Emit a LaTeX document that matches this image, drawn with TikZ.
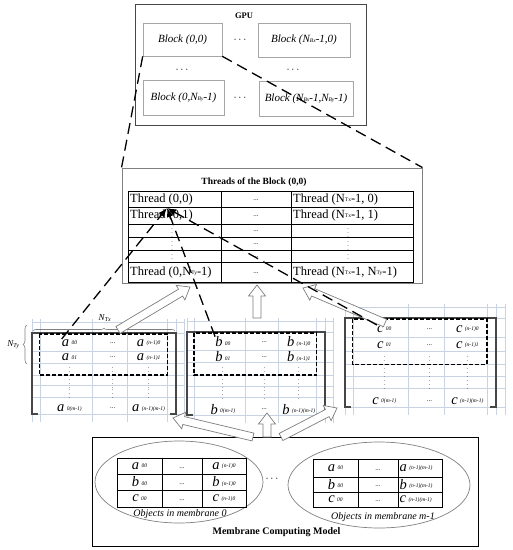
\documentclass[tikz,border=0pt]{standalone}
\usepackage{fontspec}
\setmainfont{Liberation Serif}
\usepackage{tikz}
\usetikzlibrary{arrows.meta, calc, decorations.pathreplacing}
\definecolor{gridline}{RGB}{200, 212, 228}
\definecolor{boxline}{RGB}{70, 70, 70}
\definecolor{fatline}{RGB}{125, 125, 125}

\newcommand{\idx}[1]{{\fontsize{5.5}{6}\selectfont #1}}
\newcommand{\elem}[2]{\textit{#1}\,\raisebox{1.5pt}{\idx{\itshape #2}}}
\newcommand{\vdt}{{\fontsize{6}{6}\selectfont$\vdots$}}
\newcommand{\hdt}{{\fontsize{7}{7}\selectfont ...}}
% hollow arrow from #1 to #2
\newcommand{\fatarrow}[2]{%
  \coordinate (neck) at ($(#2)!11pt!(#1)$);
  \draw[hollowarrow] ($(#1)!4pt!90:(#2)$) -- ($(neck)!4pt!90:(#2)$)
    -- ($(neck)!8.5pt!90:(#2)$) -- (#2) -- ($(neck)!8.5pt!-90:(#2)$)
    -- ($(neck)!4pt!-90:(#2)$) -- ($(#1)!4pt!-90:(#2)$) -- cycle;}

\begin{document}
\begin{tikzpicture}[x=1pt, y=-1pt,
    gpubox/.style={draw=boxline, line width=0.9pt, inner sep=0pt},
    blockbox/.style={draw=gray!70, line width=0.6pt, inner sep=0pt, font=\fontsize{11}{11}\selectfont\itshape},
    threadtxt/.style={anchor=west, inner sep=0pt, font=\fontsize{12.5}{13}\selectfont},
    celltxt/.style={inner sep=0pt, font=\fontsize{14.5}{14}\selectfont},
    gridrule/.style={draw=gridline, line width=0.5pt},
    frameline/.style={draw=boxline, line width=1.1pt},
    dashbox/.style={draw=black, line width=1.4pt, dash pattern=on 4pt off 2pt},
    dashlink/.style={draw=black, line width=1.3pt, dash pattern=on 11pt off 6pt},
    hollowarrow/.style={draw=fatline, fill=white, line width=0.7pt, line join=miter},
    tablerule/.style={draw=black, line width=0.8pt}]

  \useasboundingbox (0,0) rectangle (513,550);

  % GPU and its blocks
  \node[gpubox, minimum width=231pt, minimum height=121pt] (gpu) at (250.5,64.5) {};
  \node[font=\fontsize{8.5}{9}\selectfont\bfseries] (gputitle) at (244,16) {GPU};
  \node[blockbox, minimum width=79pt, minimum height=33pt] (blk00) at (182.5,39.5) {Block (0,0)};
  \node[blockbox, minimum width=92pt, minimum height=34pt] (blkx0) at (304,40) {Block (N\idx{Bx}-1,0)};
  \node[blockbox, minimum width=81pt, minimum height=35pt] (blk0y) at (183.5,97.5) {Block (0,N\idx{By}-1)};
  \node[blockbox, minimum width=94pt, minimum height=35pt] (blkxy) at (306,98.5) {Block (N\idx{Bx}-1,N\idx{By}-1)};
  \node[font=\fontsize{11}{11}\selectfont] (gdots1) at (240,40) {$\cdots$};
  \node[font=\fontsize{11}{11}\selectfont] (gdots2) at (182,70) {$\cdots$};
  \node[font=\fontsize{11}{11}\selectfont] (gdots3) at (293,70) {$\cdots$};
  \node[font=\fontsize{11}{11}\selectfont] (gdots4) at (240,98) {$\cdots$};

  % threads of block (0,0)
  \node[draw=gray, line width=0.9pt, minimum width=300pt, minimum height=115pt, inner sep=0pt] (thr) at (272,225.5) {};
  \node[font=\fontsize{9.5}{10}\selectfont\bfseries] (thrtitle) at (254,182) {Threads of the Block (0,0)};
  \draw[tablerule] (128,191) rectangle (413,282);
  \foreach \ry in {207,224,237,250,262}
    \draw[tablerule] (128,\ry) -- (413,\ry);
  \foreach \cx in {221,291}
    \draw[tablerule] (\cx,191) -- (\cx,282);
  \node[threadtxt] (th00) at (130,199) {Thread (0,0)};
  \node[threadtxt] (th01) at (130,215.5) {Thread (0,1)};
  \node[threadtxt] (th0y) at (130,272) {Thread (0,N\raisebox{1pt}{\idx{Ty}}-1)};
  \node[threadtxt] (thx0) at (293,199) {Thread (N\raisebox{1pt}{\idx{Tx}}-1, 0)};
  \node[threadtxt] (thx1) at (293,215.5) {Thread (N\raisebox{1pt}{\idx{Tx}}-1, 1)};
  \node[threadtxt] (thxy) at (293,272) {Thread (N\raisebox{1pt}{\idx{Tx}}-1, N\raisebox{1pt}{\idx{Ty}}-1)};
  \foreach \ry [count=\i] in {199,215.5,230.5,243.5,256,272}
    \node[inner sep=0pt] (thm\i) at (256,\ry+1) {\hdt};
  \foreach \ry [count=\i] in {230.5,243.5,256} {
    \node[inner sep=0pt] (thl\i) at (172,\ry) {\vdt};
    \node[inner sep=0pt] (thr\i) at (348,\ry) {\vdt};
  }

  % object matrices
  \foreach \m/\mx/\my/\mw/\mh in {a/32/333/144/81, b/187/332/138/83, c/345/318/151/89} {
    \foreach \f in {0,.055,.42,.66,.94,1,1.06}
      \draw[gridrule] (\mx+\f*\mw,\my-14) -- (\mx+\f*\mw,\my+\mh+8);
    \foreach \g in {0,.22,.37,.52,.65,.79,1}
      \draw[gridrule] (\mx,\my+\g*\mh) -- (\mx+1.06*\mw,\my+\g*\mh);
    \draw[gridrule] (\mx,\my-11) -- (\mx+1.06*\mw,\my-11);
    \draw[frameline] (\mx+6,\my+\mh) -- (\mx,\my+\mh) -- (\mx,\my)
      -- (\mx+\mw,\my) -- (\mx+\mw,\my+\mh) -- (\mx+\mw-6,\my+\mh);
    \draw[dashbox] (\mx+.05*\mw,\my+1) rectangle (\mx+.94*\mw,\my+.52*\mh);
    \node[celltxt] (\m-00) at (\mx+.26*\mw,\my+.12*\mh) {\elem{\m}{00}};
    \node[celltxt] (\m-01) at (\mx+.26*\mw,\my+.30*\mh) {\elem{\m}{01}};
    \node[celltxt] (\m-0m) at (\mx+.26*\mw,\my+.93*\mh) {\elem{\m}{0(m-1)}};
    \node[celltxt] (\m-n0) at (\mx+.81*\mw,\my+.12*\mh) {\elem{\m}{(n-1)0}};
    \node[celltxt] (\m-n1) at (\mx+.81*\mw,\my+.30*\mh) {\elem{\m}{(n-1)1}};
    \node[celltxt] (\m-nm) at (\mx+.81*\mw,\my+.93*\mh) {\elem{\m}{(n-1)(m-1)}};
    \foreach \g [count=\i] in {.12,.30,.93}
      \node[inner sep=0pt] (\m-h\i) at (\mx+.56*\mw,\my+\g*\mh) {\hdt};
    \foreach \g [count=\i] in {.45,.59,.72}
      \foreach \f [count=\j] in {.26,.56,.81}
        \node[inner sep=0pt] (\m-v\i\j) at (\mx+\f*\mw,\my+\g*\mh) {\vdt};
  }
  \draw[gray, line width=0.6pt, decorate, decoration={brace, amplitude=3pt}]
    (33,331) -- (175,331);
  \node[font=\fontsize{9}{9}\selectfont\itshape] (ntx) at (105,318) {N\textsubscript{Tx}};
  \draw[gray, line width=0.6pt, decorate, decoration={brace, amplitude=4pt}]
    (27,364) -- (27,325);
  \node[font=\fontsize{9}{9}\selectfont\itshape, anchor=east] (nty) at (23,345) {N\textsubscript{Ty}};

  % membrane computing model
  \node[draw=black, line width=1pt, minimum width=386pt, minimum height=109pt, inner sep=0pt] (mcm) at (285,491.5) {};
  \draw[gray, line width=0.7pt] (179,482) ellipse [x radius=84pt, y radius=41pt];
  \draw[gray, line width=0.7pt] (379,485) ellipse [x radius=91pt, y radius=43pt];
  \draw[tablerule] (117,458) rectangle (246,507);
  \draw[tablerule] (117,474) -- (246,474) (117,490) -- (246,490) (162,458) -- (162,507) (202,458) -- (202,507);
  \draw[tablerule] (313,459) rectangle (442,507);
  \draw[tablerule] (313,477) -- (442,477) (313,492) -- (442,492) (358,459) -- (358,507) (398,459) -- (398,507);
  \foreach \m/\ry [count=\i] in {a/466,b/482,c/498.5} {
    \node[celltxt] (l\m0) at (139.5,\ry) {\elem{\m}{00}};
    \node[inner sep=0pt] (l\m1) at (182,\ry+2) {\hdt};
    \node[celltxt] (l\m2) at (224,\ry) {\elem{\m}{(n-1)0}};
  }
  \foreach \m/\ry [count=\i] in {a/468,b/484.5,c/499.5} {
    \node[celltxt] (r\m0) at (335.5,\ry) {\elem{\m}{00}};
    \node[inner sep=0pt] (r\m1) at (378,\ry+2) {\hdt};
    \node[celltxt, anchor=west] (r\m2) at (399.5,\ry) {\elem{\m}{(n-1)(m-1)}};
  }
  \node[font=\fontsize{10}{10}\selectfont\itshape] (obj0) at (180,514) {Objects in membrane 0};
  \node[font=\fontsize{10}{10}\selectfont\itshape] (objm) at (383,517) {Objects in membrane m-1};
  \node[font=\fontsize{11}{11}\selectfont] (mdots) at (272,479) {$\cdots$};
  \node[font=\fontsize{10}{10}\selectfont\bfseries] (mcmtitle) at (276.5,532) {Membrane Computing Model};

  % hollow arrows
  \coordinate (fa1s) at (118,330); \coordinate (fa1e) at (190,287);
  \coordinate (fa2s) at (257,318); \coordinate (fa2e) at (257,285);
  \coordinate (fa3s) at (385,323); \coordinate (fa3e) at (303,288);
  \coordinate (fa4s) at (253,437); \coordinate (fa4e) at (173,418);
  \coordinate (fa5s) at (267,437); \coordinate (fa5e) at (267,413);
  \coordinate (fa6s) at (281,437); \coordinate (fa6e) at (337,408);
  \fatarrow{fa1s}{fa1e}
  \fatarrow{fa2s}{fa2e}
  \fatarrow{fa3s}{fa3e}
  \fatarrow{fa4s}{fa4e}
  \fatarrow{fa5s}{fa5e}
  \fatarrow{fa6s}{fa6e}

  % dashed links
  \draw[dashlink] (blk00.south west) -- (thr.north west);
  \draw[dashlink] (blk00.south east) -- (thr.north east);
  \coordinate (hit) at (167,208);
  \draw[dashlink, -{Latex[length=9pt,width=7pt]}] (a-00.north west) -- (hit);
  \draw[dashlink, -{Latex[length=9pt,width=7pt]}] (b-00.north west) -- (hit);
  \draw[dashlink, -{Latex[length=9pt,width=7pt]}] (c-00.north west) -- (hit);

\end{tikzpicture}
\end{document}
